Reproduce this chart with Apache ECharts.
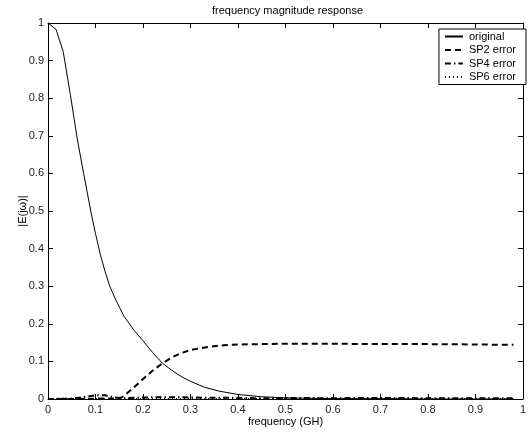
<!DOCTYPE html>
<html>
<head>
<meta charset="UTF-8">
<title>frequency magnitude response</title>
<script src="https://cdn.jsdelivr.net/npm/echarts@6/dist/echarts.min.js"></script>
<style>
  html, body { margin: 0; padding: 0; background: #fff; }
</style>
</head>
<body>
<div id="main" style="width:529px; height:433px;"></div>
<script type="text/javascript">
// values
var origFreq = [0, 0.017, 0.032, 0.047, 0.062, 0.075, 0.09, 0.1, 0.11, 0.12, 0.13, 0.143, 0.16, 0.181, 0.2, 0.22, 0.241, 0.26, 0.28, 0.3, 0.33, 0.36, 0.4, 0.45, 0.5, 0.55, 0.6, 0.7, 0.8, 0.9, 0.98];
var origVals = [1, 0.983, 0.924, 0.81, 0.689, 0.6, 0.5, 0.44, 0.385, 0.34, 0.3, 0.263, 0.22, 0.183, 0.155, 0.124, 0.095, 0.077, 0.06, 0.047, 0.031, 0.021, 0.012, 0.006, 0.003, 0.002, 0.001, 0.001, 0, 0, 0];

var sp2Freq = [0, 0.05, 0.1, 0.15, 0.16, 0.18, 0.2, 0.22, 0.24, 0.26, 0.28, 0.3, 0.32, 0.34, 0.37, 0.4, 0.45, 0.5, 0.6, 0.7, 0.8, 0.9, 0.98];
var sp2Vals = [0, 0, 0.001, 0.001, 0.008, 0.03, 0.053, 0.075, 0.094, 0.11, 0.122, 0.13, 0.135, 0.139, 0.143, 0.145, 0.146, 0.147, 0.147, 0.146, 0.146, 0.145, 0.144];

var sp4Freq = [0, 0.05, 0.08, 0.1, 0.12, 0.14, 0.16, 0.2, 0.25, 0.3, 0.35, 0.4, 0.45, 0.5, 0.6, 0.7, 0.8, 0.9, 0.98];
var sp4Vals = [0, 0.001, 0.006, 0.01, 0.01, 0.004, 0.002, 0.004, 0.005, 0.004, 0.003, 0.003, 0.002, 0.003, 0.002, 0.003, 0.002, 0.002, 0.002];

var sp6Freq = [0, 0.2, 0.4, 0.6, 0.8, 0.98];
var sp6Vals = [0.001, 0.001, 0.001, 0.001, 0.001, 0.001];

var axisTicks = ['0', '0.1', '0.2', '0.3', '0.4', '0.5', '0.6', '0.7', '0.8', '0.9', '1'];

function pairs(xs, ys) {
  var out = [];
  for (var i = 0; i < xs.length; i++) out.push([xs[i], ys[i]]);
  return out;
}

var font = 'Liberation Sans, Arial, sans-serif';
var tickLabel = function (v) { return axisTicks[Math.round(v * 10)]; };

var myChart = echarts.init(document.getElementById('main'));

var boxAxis = {
  min: 0, max: 1, interval: 0.1,
  axisLine: { show: true, onZero: false, lineStyle: { color: '#000', width: 1 } },
  axisTick: { show: true, inside: true, length: 5, lineStyle: { color: '#000' } },
  splitLine: { show: false }
};

var option = {
  animation: false,
  title: {
    text: 'frequency magnitude response',
    left: 212, top: 5, padding: 0,
    textStyle: { fontSize: 11, fontWeight: 'normal', color: '#000', fontFamily: font }
  },
  grid: { left: 48, right: 5, top: 23, bottom: 34 },
  legend: {
    orient: 'vertical',
    right: 3, top: 29,
    backgroundColor: '#fff',
    borderColor: '#000', borderWidth: 1,
    padding: [2, 10, 2, 5],
    itemWidth: 18, itemHeight: 10, itemGap: 2.5,
    itemStyle: { opacity: 0 },
    textStyle: { fontSize: 11, color: '#000', fontFamily: font, padding: [0, 0, 0, 1] },
    data: ['original', 'SP2 error', 'SP4 error', 'SP6 error']
  },
  xAxis: [
    Object.assign({}, boxAxis, {
      type: 'value', position: 'bottom',
      name: 'frequency (GH)', nameLocation: 'middle', nameGap: 17, nameMoveOverlap: false,
      nameTextStyle: { fontSize: 11, color: '#000', fontFamily: font },
      axisLabel: { fontSize: 11, color: '#222', fontFamily: font, margin: 5, formatter: tickLabel }
    }),
    Object.assign({}, boxAxis, { type: 'value', position: 'top', axisLabel: { show: false } })
  ],
  yAxis: [
    Object.assign({}, boxAxis, {
      type: 'value', position: 'left',
      name: '|E(jω)|', nameLocation: 'middle', nameGap: 20, nameMoveOverlap: false,
      nameTextStyle: { fontSize: 11, color: '#000', fontFamily: font },
      axisLabel: { fontSize: 11, color: '#222', fontFamily: font, margin: 4, formatter: tickLabel }
    }),
    Object.assign({}, boxAxis, { type: 'value', position: 'right', axisLabel: { show: false } })
  ],
  series: [
    {
      name: 'original', type: 'line', symbol: 'none',
      lineStyle: { color: '#000', width: 1, type: 'solid' },
      itemStyle: { color: '#000' },
      data: pairs(origFreq, origVals)
    },
    {
      name: 'SP2 error', type: 'line', symbol: 'none',
      lineStyle: { color: '#000', width: 2, type: [6, 4] },
      itemStyle: { color: '#000' },
      data: pairs(sp2Freq, sp2Vals)
    },
    {
      name: 'SP4 error', type: 'line', symbol: 'none',
      lineStyle: { color: '#000', width: 2, type: [6, 3, 1.5, 3] },
      itemStyle: { color: '#000' },
      data: pairs(sp4Freq, sp4Vals)
    },
    {
      name: 'SP6 error', type: 'line', symbol: 'none',
      lineStyle: { color: '#000', width: 1, type: [1, 3] },
      itemStyle: { color: '#000' },
      data: pairs(sp6Freq, sp6Vals)
    }
  ]
};

myChart.setOption(option);
</script>
</body>
</html>
